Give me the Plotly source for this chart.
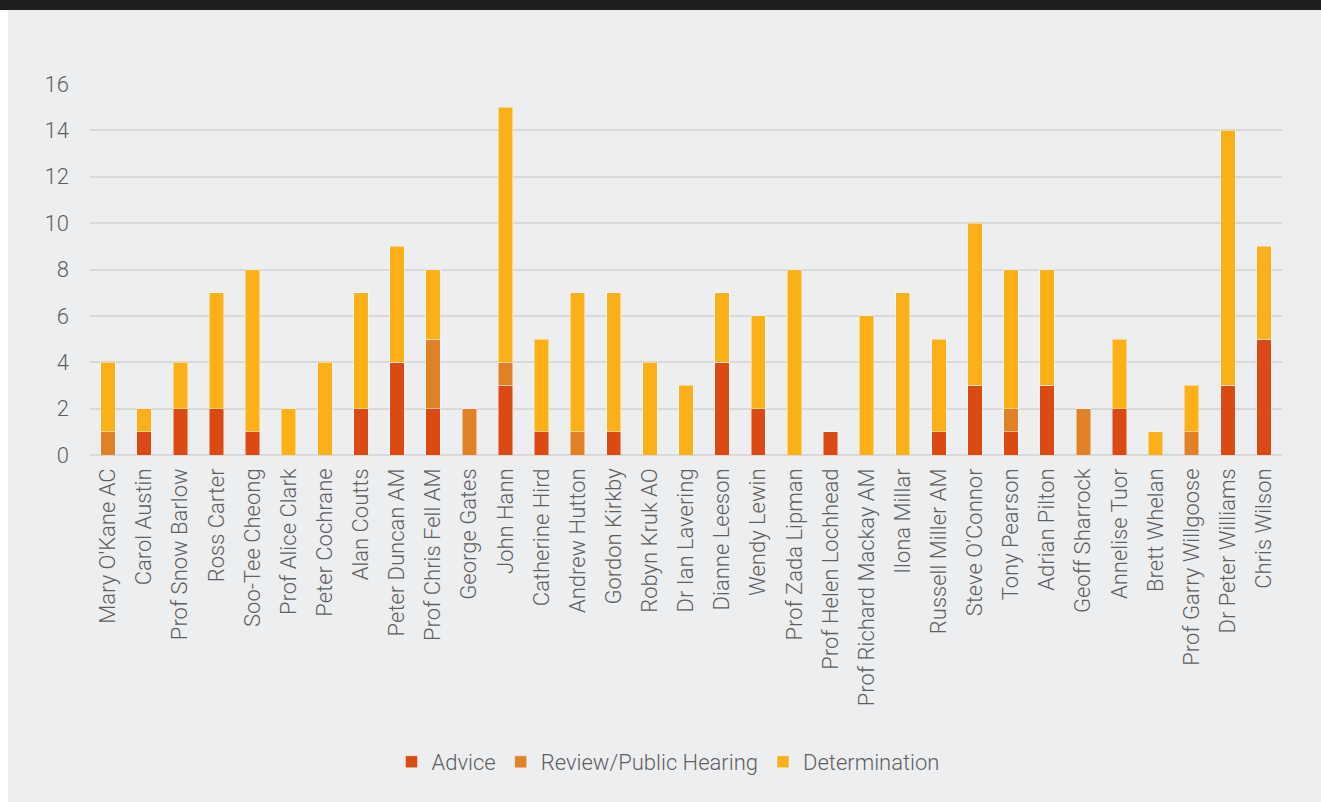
import plotly.graph_objs as go

members = [
    "Mary O'Kane AC", "Carol Austin", "Prof Snow Barlow", "Ross Carter", "Soo-Tee Cheong",
    "Prof Alice Clark", "Peter Cochrane", "Alan Coutts", "Peter Duncan AM", "Prof Chris Fell AM",
    "George Gates", "John Hann", "Catherine Hird", "Andrew Hutton", "Gordon Kirkby",
    "Robyn Kruk AO", "Dr Ian Lavering", "Dianne Leeson", "Wendy Lewin", "Prof Zada Lipman",
    "Prof Helen Lochhead", "Prof Richard Mackay AM", "Ilona Millar", "Russell Miller AM",
    "Steve O\u2019Connor", "Tony Pearson", "Adrian Pilton", "Geoff Sharrock", "Annelise Tuor",
    "Brett Whelan", "Prof Garry Willgoose", "Dr Peter Williams", "Chris Wilson",
]
advice = [0, 1, 2, 2, 1, 0, 0, 2, 4, 2, 0, 3, 1, 0, 1, 0, 0, 4, 2, 0, 1, 0, 0, 1, 3, 1, 3, 0, 2, 0, 0, 3, 5]
review = [1, 0, 0, 0, 0, 0, 0, 0, 0, 3, 2, 1, 0, 1, 0, 0, 0, 0, 0, 0, 0, 0, 0, 0, 0, 1, 0, 2, 0, 0, 1, 0, 0]
determination = [3, 1, 2, 5, 7, 2, 4, 5, 5, 3, 0, 11, 4, 6, 6, 4, 3, 3, 4, 8, 0, 6, 7, 4, 7, 6, 5, 0, 3, 1, 2, 11, 4]

FONT = "Roboto"
TXT = "#5f5f5f"
BG = "#EDEEF0"
tick_font = dict(family=FONT, size=22, color=TXT, weight=300)

fig = go.Figure()
for name, vals, col in [
    ("Advice", advice, "#DB4A12"),
    ("Review/Public Hearing", review, "#E08126"),
    ("Determination", determination, "#FBB018"),
]:
    fig.add_trace(go.Bar(
        x=members, y=vals, name=name,
        marker=dict(color=col, line=dict(color="rgba(255,255,255,0.45)", width=1)),
    ))

# plot area: y=0 at 455px, y=16 at 84px, x from 90 to 1282
plot_h = 455 - 84
plot_w = 1282 - 90
fig.update_layout(
    barmode="stack",
    bargap=0.6,
    width=1321, height=802,
    margin=dict(l=90, r=1321 - 1282, t=84, b=802 - 455),
    paper_bgcolor=BG, plot_bgcolor=BG,
    font=tick_font,
    showlegend=True,
    legend=dict(orientation="h", x=(668 - 90) / plot_w, xanchor="center",
                y=-(762 - 455) / plot_h, yanchor="middle",
                font=tick_font, traceorder="normal", itemwidth=30),
    xaxis=dict(tickangle=-90, showgrid=False, showline=False, ticks="",
               ticklabelstandoff=8, tickfont=tick_font),
    yaxis=dict(range=[0, 16], dtick=2, showgrid=True, gridcolor="#D9D9D9", gridwidth=1.5,
               zeroline=True, zerolinecolor="#D9D9D9", zerolinewidth=1.5,
               showline=False, ticks="", ticklabelstandoff=20, tickfont=tick_font),
    shapes=[
        dict(type="rect", xref="paper", yref="paper", layer="below",
             x0=-0.2, x1=1.2, y0=1 + (84 - 10) / plot_h, y1=1 + 90 / plot_h,
             fillcolor="#1E1E1E", line=dict(width=0)),
        dict(type="rect", xref="paper", yref="paper", layer="below",
             x0=-90 / plot_w, x1=-82 / plot_w, y0=-2, y1=1 + (84 - 10) / plot_h,
             fillcolor="#FFFFFF", line=dict(width=0)),
    ],
)

fig.write_html("out.html", config={"displayModeBar": False},
               post_script="document.body.style.margin = '0';")
